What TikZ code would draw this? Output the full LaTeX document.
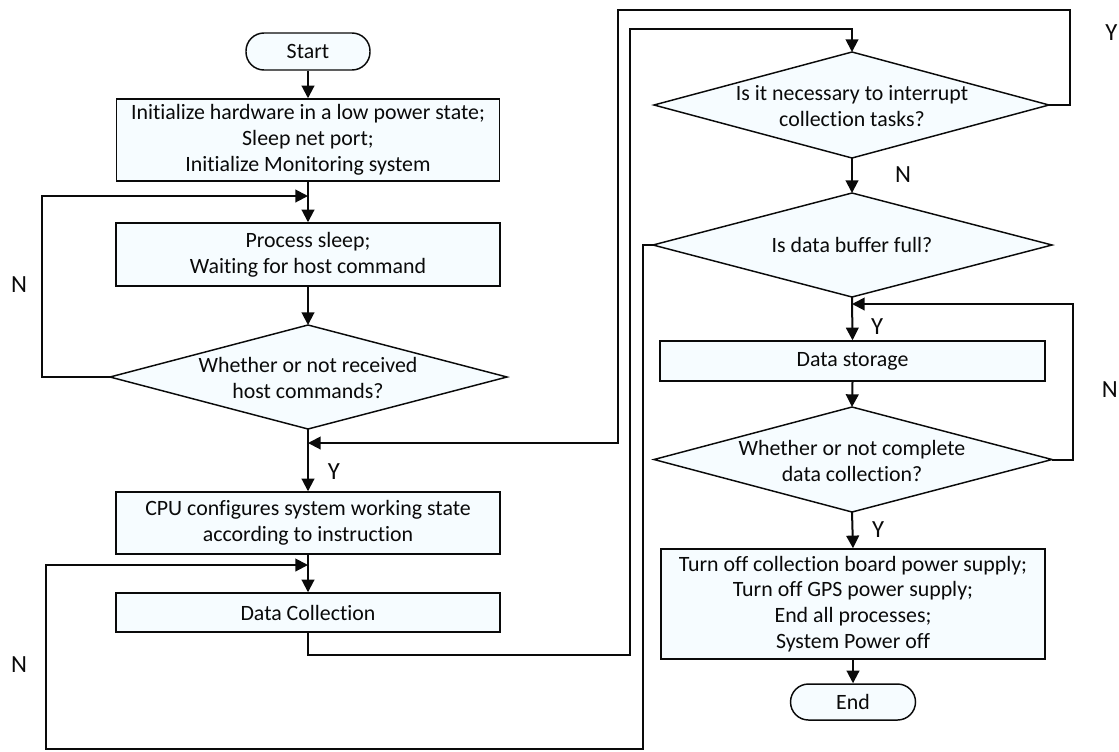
\documentclass[tikz,border=0pt]{standalone}
\usepackage{fontspec}
\setmainfont{Carlito}[Ligatures=NoCommon]
\usetikzlibrary{arrows.meta}
\definecolor{boxfill}{RGB}{246,252,255}
\definecolor{ink}{RGB}{10,10,10}
\tikzset{
  txt/.style={font=\fontsize{16.4}{19.3}\selectfont, text=ink},
  base/.style={draw=ink, line width=1.1pt, fill=boxfill, inner sep=0pt, align=center, txt},
  procbox/.style={base, rectangle},
  termbox/.style={base, rectangle, rounded corners=13.5pt},
  decbox/.style={draw=ink, line width=1.1pt, fill=boxfill},
  dectext/.style={align=center, txt, inner sep=0pt},
  flow/.style={draw=ink, line width=1.5pt, -{Triangle[length=9.5pt,width=9.5pt]}},
  yn/.style={font=\fontsize{18.5}{20}\selectfont, text=ink, inner sep=0pt},
}
\begin{document}
\begin{tikzpicture}[x=0.75pt, y=-0.75pt]
\useasboundingbox (0,0) rectangle (1119,751);

% ---- left column ----
\node[termbox, minimum width=124*0.75pt, minimum height=37*0.75pt] (start) at (308,51.5) {Start};
\node[procbox, minimum width=383*0.75pt, minimum height=82*0.75pt] (init) at (308,140)
  {Initialize hardware in a low power state;\\Sleep net port;\\Initialize Monitoring system};
\node[procbox, minimum width=384*0.75pt, minimum height=63*0.75pt] (sleep) at (308,254.5)
  {Process sleep;\\Waiting for host command};
\path[decbox] (110,377) -- (308,325) -- (507,377) -- (308,429) -- cycle;
\node[dectext] (d1) at (308,378) {Whether or not received\\host commands?};
\coordinate (d1n) at (308,325);
\coordinate (d1s) at (308,429);
\coordinate (d1w) at (110,377);
\node[procbox, minimum width=384*0.75pt, minimum height=62*0.75pt] (cpu) at (308,523)
  {CPU configures system working state\\according to instruction};
\node[procbox, minimum width=384*0.75pt, minimum height=39*0.75pt] (dc) at (308,612.5)
  {Data Collection};

% ---- right column ----
\path[decbox] (654,105) -- (852,52) -- (1049,105) -- (852,158) -- cycle;
\node[dectext] (d2) at (852,106) {Is it necessary to interrupt\\collection tasks?};
\coordinate (d2n) at (852,52);
\coordinate (d2s) at (852,158);
\coordinate (d2e) at (1049,105);
\path[decbox] (653,245) -- (852,193) -- (1052,245) -- (852,297) -- cycle;
\node[dectext] (d3) at (852,245) {Is data buffer full?};
\coordinate (d3n) at (852,193);
\coordinate (d3s) at (852,297);
\coordinate (d3w) at (653,245);
\node[procbox, minimum width=385*0.75pt, minimum height=40*0.75pt] (ds) at (852.5,361) {Data storage};
\path[decbox] (654,459.5) -- (852,407) -- (1052,459.5) -- (852,512) -- cycle;
\node[dectext] (d4) at (852,461) {Whether or not complete\\data collection?};
\coordinate (d4n) at (852,407);
\coordinate (d4s) at (852,512);
\coordinate (d4e) at (1052,459.5);
\node[procbox, minimum width=384*0.75pt, minimum height=110*0.75pt] (fin) at (853,604)
  {Turn off collection board power supply;\\Turn off GPS power supply;\\End all processes;\\System Power off};
\node[termbox, minimum width=125*0.75pt, minimum height=36*0.75pt] (end) at (853,702) {End};

% ---- merge points ----
\coordinate (m1) at (308,196);
\coordinate (m2) at (308,443);
\coordinate (m3) at (308,565);
\coordinate (m4) at (852,304);

% ---- main flow ----
\draw[flow] (start.south) -- (init.north);
\draw[flow] (init.south) -- (sleep.north);
\draw[flow] (sleep.south) -- (d1n);
\draw[flow] (d1s) -- (cpu.north);
\draw[flow] (cpu.south) -- (dc.north);
\draw[flow] (d2s) -- (d3n);
\draw[flow] (d3s) -- (ds.north);
\draw[flow] (ds.south) -- (d4n);
\draw[flow] (d4s) -- (fin.north);
\draw[flow] (fin.south) -- (end.north);

% ---- loops ----
\draw[flow] (d1w) -- (42,377) -- (42,196) -- (m1);
\draw[flow] (d2e) -- (1070,105) -- (1070,10) -- (618,10) -- (618,443) -- (m2);
\draw[flow] (d3w) -- (643,245) -- (643,749) -- (46,749) -- (46,565) -- (m3);
\draw[flow] (dc.south) -- (308,655) -- (630,655) -- (630,29) -- (852,29) -- (d2n);
\draw[flow] (d4e) -- (1073,459.5) -- (1073,304) -- (m4);

% ---- branch labels ----
\node[yn] (lN1) at (19,285) {N};
\node[yn] (lY1) at (334,472) {Y};
\node[yn] (lN2) at (19,665) {N};
\node[yn, anchor=west] (lY2) at (1105,33) {Y};
\node[yn] (lN3) at (903,175) {N};
\node[yn] (lY3) at (877,327) {Y};
\node[yn, anchor=east] (lN4) at (1118,390) {N};
\node[yn] (lY4) at (878,530) {Y};
\end{tikzpicture}
\end{document}
